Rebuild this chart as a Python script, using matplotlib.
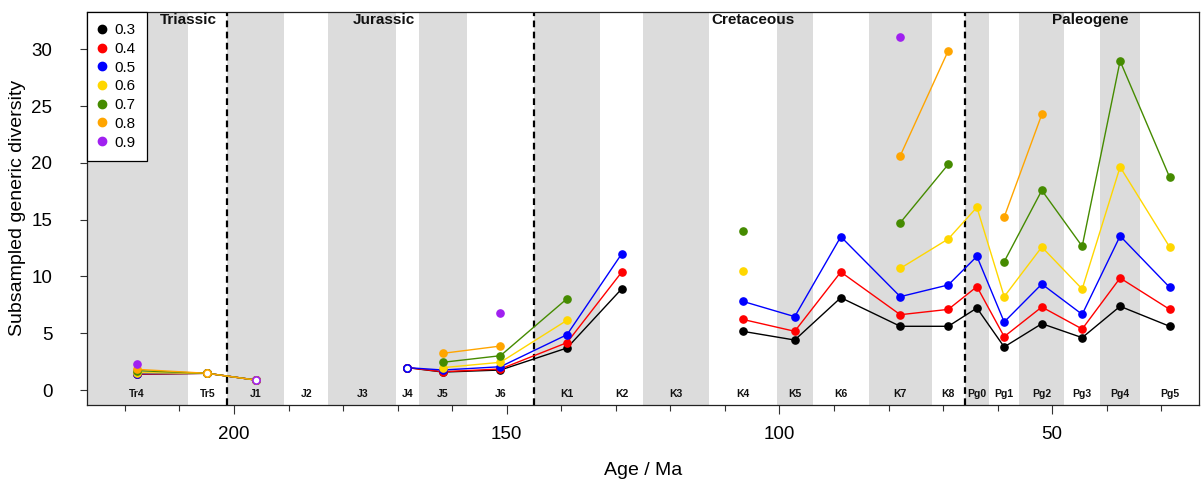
import numpy as np
import matplotlib
matplotlib.use('Agg')
import matplotlib.pyplot as plt
import matplotlib.transforms as mtransforms
from matplotlib.lines import Line2D

plt.rcParams['font.family'] = ['Liberation Sans', 'DejaVu Sans']

nan = np.nan

# ---- stages (geological time bins) ----
stages = ['Tr4', 'Tr5', 'J1', 'J2', 'J3', 'J4', 'J5', 'J6',
          'K1', 'K2', 'K3', 'K4', 'K5', 'K6', 'K7', 'K8',
          'Pg0', 'Pg1', 'Pg2', 'Pg3', 'Pg4', 'Pg5']
stage_bounds = [227.0, 208.5, 201.3, 190.8, 182.7, 170.3, 166.1, 157.3,
                145.0, 132.9, 125.0, 113.0, 100.5, 93.9, 83.6, 72.1,
                66.0, 61.6, 56.0, 47.8, 41.2, 33.9, 23.03]
open_stages = ['Tr5', 'J1', 'J4']

periods = ['Triassic', 'Jurassic', 'Cretaceous', 'Paleogene']
period_label_age = [208.4, 172.5, 104.9, 43.0]
period_bounds = [201.3, 145.0, 66.0]

# ---- subsampled diversity per quorum level ----
quorums = ['0.3', '0.4', '0.5', '0.6', '0.7', '0.8', '0.9']
colors = ['#000000', '#FF0000', '#0000FF', '#FFD700', '#458B00', '#FFA500', '#A020F0']

q03 = [1.40, 1.47, 0.88, nan, nan, 1.97, 1.58, 1.76, 3.70, 8.89, nan, 5.17, 4.40, 8.13,
       5.61, 5.61, 7.22, 3.79, 5.84, 4.61, 7.37, 5.61]
q04 = [1.40, 1.47, 0.88, nan, nan, 1.97, 1.61, 1.85, 4.17, 10.36, nan, 6.22, 5.17, 10.39,
       6.63, 7.10, 9.10, 4.70, 7.31, 5.37, 9.86, 7.10]
q05 = [1.45, 1.47, 0.88, nan, nan, 1.97, 1.76, 2.05, 4.87, 11.97, nan, 7.81, 6.46, 13.50,
       8.22, 9.25, 11.77, 5.99, 9.33, 6.66, 13.56, 9.04]
q06 = [1.52, 1.47, 0.88, nan, nan, nan, 1.97, 2.44, 6.14, nan, nan, 10.45, nan, nan,
       10.71, 13.30, 16.09, 8.22, 12.59, 8.89, 19.64, 12.59]
q07 = [1.70, 1.47, 0.88, nan, nan, nan, 2.44, 3.02, 8.04, nan, nan, 14.04, nan, nan,
       14.73, 19.87, nan, 11.30, 17.58, 12.65, 28.97, 18.73]
q08 = [1.82, 1.47, 0.88, nan, nan, nan, 3.23, 3.87, nan, nan, nan, nan, nan, nan,
       20.63, 29.88, nan, 15.23, 24.27, nan, nan, nan]
q09 = [2.26, nan, 0.88, nan, nan, nan, nan, 6.75, nan, nan, nan, nan, nan, nan,
       31.10, nan, nan, nan, nan, nan, nan, nan]
series = [q03, q04, q05, q06, q07, q08, q09]

x_major = [200, 150, 100, 50]
x_minor = [220, 210, 190, 180, 170, 160, 140, 130, 120, 110, 90, 80, 70, 60, 40, 30]
y_ticks = [0, 5, 10, 15, 20, 25, 30]

# ---- figure ----
W, H = 1203, 488
fig = plt.figure(figsize=(W / 100, H / 100), dpi=100)
ax = fig.add_axes([86.7 / W, (H - 405) / H, (1199.3 - 86.7) / W, (405 - 11.7) / H])

mids = [(stage_bounds[i] + stage_bounds[i + 1]) / 2 for i in range(len(stages))]

# alternating stage bands
for i in range(len(stages)):
    if i % 2 == 0:
        ax.axvspan(stage_bounds[i + 1], stage_bounds[i], color='#DCDCDC', lw=0, zorder=0)

# period boundaries
for b in period_bounds:
    ax.axvline(b, color='black', lw=1.6, ls=(0, (3, 2)), zorder=1)

# stage labels
tr = mtransforms.blended_transform_factory(ax.transData, ax.transAxes)
for name, m in zip(stages, mids):
    ax.text(m, 0.0287, name, transform=tr, ha='center', va='center',
            fontsize=7.5, fontweight='bold', color='#111111', zorder=2)
for name, a in zip(periods, period_label_age):
    ax.text(a, 0.979, name, transform=tr, ha='center', va='center',
            fontsize=11, fontweight='bold', color='#111111', zorder=2)

# series
is_open = np.array([s in open_stages for s in stages])
xm = np.array(mids)
for vals, c in zip(series, colors):
    v = np.array(vals, dtype=float)
    ax.plot(xm, v, '-', color=c, lw=1.0, zorder=3)
    filled = ~is_open & ~np.isnan(v)
    ax.plot(xm[filled], v[filled], 'o', color=c, ms=5.2, mec=c, zorder=4)
    op = is_open & ~np.isnan(v)
    ax.plot(xm[op], v[op], 'o', mfc='white', mec=c, mew=1.2, ms=5.2, zorder=4)

ax.set_xlim(227.0, 23.03)
ax.set_ylim(-1.32, 33.31)

ax.set_xticks(x_major)
ax.set_xticks(x_minor, minor=True)
ax.set_yticks(y_ticks)
ax.tick_params(axis='x', which='major', length=6.5, width=0.8, labelsize=13.5, pad=8.5, color='#333333')
ax.tick_params(axis='x', which='minor', length=4, width=0.8, color='#333333')
ax.tick_params(axis='y', which='major', length=4.8, width=0.8, labelsize=13.5, pad=20, color='#333333')
for sp in ax.spines.values():
    sp.set_linewidth(0.9)
    sp.set_color('#222222')

ax.set_xlabel('Age / Ma', fontsize=14)
ax.set_ylabel('Subsampled generic diversity', fontsize=14)
ax.xaxis.set_label_coords(0.5, -0.145)
ax.yaxis.set_label_coords(-0.055, 0.5)

handles = [Line2D([], [], marker='o', ls='', color=c, ms=6) for c in colors]
leg = ax.legend(handles, quorums, loc='upper left', bbox_to_anchor=(0, 1),
                borderaxespad=0, frameon=True, fancybox=False, edgecolor='black',
                framealpha=1, fontsize=11, handlelength=0.5, handletextpad=0.58,
                borderpad=0.75, labelspacing=0.31)
leg.get_frame().set_linewidth(0.9)
leg.set_zorder(10)

fig.savefig('out.png', dpi=100)
